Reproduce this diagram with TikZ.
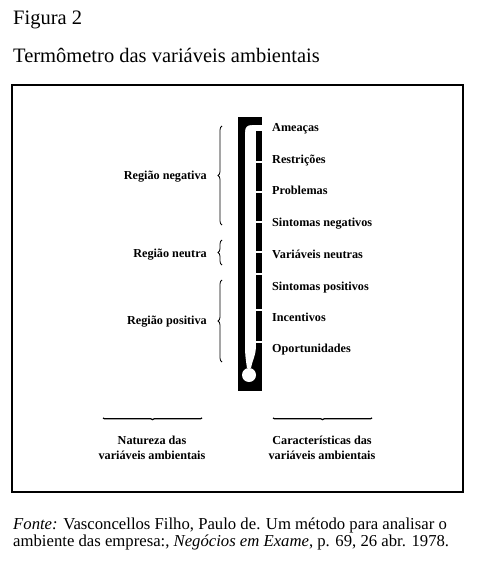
\documentclass[tikz,border=0pt]{standalone}
\usepackage{fontspec}
\setmainfont{Liberation Serif}
\usetikzlibrary{decorations.pathreplacing}
\begin{document}
\begin{tikzpicture}[x=1pt,y=-1pt,
  lbl/.style={inner sep=0pt,font=\fontsize{12.2}{14}\selectfont\bfseries},
  rlbl/.style={lbl,anchor=base west},
  llbl/.style={lbl,anchor=base east},
  blbl/.style={lbl,anchor=base,align=center},
  src/.style={anchor=base west,inner sep=0pt,font=\fontsize{16.7}{19}\selectfont},
  ttl/.style={anchor=base west,inner sep=0pt,font=\fontsize{20.5}{24}\selectfont},
  bracel/.style={draw,line width=0.8pt,decorate,decoration={brace,amplitude=4pt}},
  braceb/.style={draw,line width=1.2pt,decorate,decoration={brace,amplitude=1.6pt}}]
\fill[white] (0,0) rectangle (478,561);
\useasboundingbox (0,0) rectangle (478,561);
% titles
\node[ttl] (fig) at (13,25) {Figura 2};
\node[ttl] (tit) at (13,63) {Termômetro das variáveis ambientais};
% frame
\draw[line width=1.3pt] (12,85) rectangle (463,492);
% thermometer
\fill (238,117) rectangle (262,125);
\fill (238,117) rectangle (245,391);
\fill (245,125) -- (252,125) .. controls (247,125) and (245,127) .. (245,132) -- cycle;
\foreach \a/\b in {131/161,163/191,193/221,223/251,253/273,275/309,311/341,343/347}
  \fill (256,\a) rectangle (262,\b);
\fill (238,345) rectangle (262,391);
\fill[white] (245,345) -- (256,345) .. controls (256,356) and (252,361) .. (251,368) -- (247,368) .. controls (246,361) and (245,356) .. (245,345) -- cycle;
\fill[white] (249,375) circle (7);
% right labels
\node[rlbl] (l1) at (272,132) {Ameaças};
\node[rlbl] (l2) at (272,164) {Restrições};
\node[rlbl] (l3) at (272,194) {Problemas};
\node[rlbl] (l4) at (272,226) {Sintomas negativos};
\node[rlbl] (l5) at (272,258) {Variáveis neutras};
\node[rlbl] (l6) at (272,290) {Sintomas positivos};
\node[rlbl] (l7) at (272,321) {Incentivos};
\node[rlbl] (l8) at (272,352) {Oportunidades};
% left labels and braces
\node[llbl] (rn) at (207,180) {Região negativa};
\node[llbl] (ru) at (207,257) {Região neutra};
\node[llbl] (rp) at (207,324) {Região positiva};
\coordinate (b1a) at (222,225); \coordinate (b1b) at (222,126);
\coordinate (b2a) at (222,265); \coordinate (b2b) at (222,240);
\coordinate (b3a) at (222,362); \coordinate (b3b) at (222,280);
\path[bracel] (b1a) -- (b1b);
\path[bracel] (b2a) -- (b2b);
\path[bracel] (b3a) -- (b3b);
% bottom
\coordinate (u1a) at (202,418); \coordinate (u1b) at (103,418);
\coordinate (u2a) at (372,418); \coordinate (u2b) at (273,418);
\path[braceb] (u1a) -- (u1b);
\path[braceb] (u2a) -- (u2b);
\node[blbl] (n1) at (152,444) {Natureza das};
\node[blbl] (n2) at (152,459) {variáveis ambientais};
\node[blbl] (c1) at (322,444) {Características das};
\node[blbl] (c2) at (322,459) {variáveis ambientais};
% source
\node[src] (f1) at (13,529) {\textit{Fonte:} Vasconcellos Filho, Paulo de. Um método para analisar o};
\node[src] (f2) at (13,546) {ambiente das empresa:, \textit{Negócios em Exame}, p. 69, 26 abr. 1978.};
\end{tikzpicture}
\end{document}
